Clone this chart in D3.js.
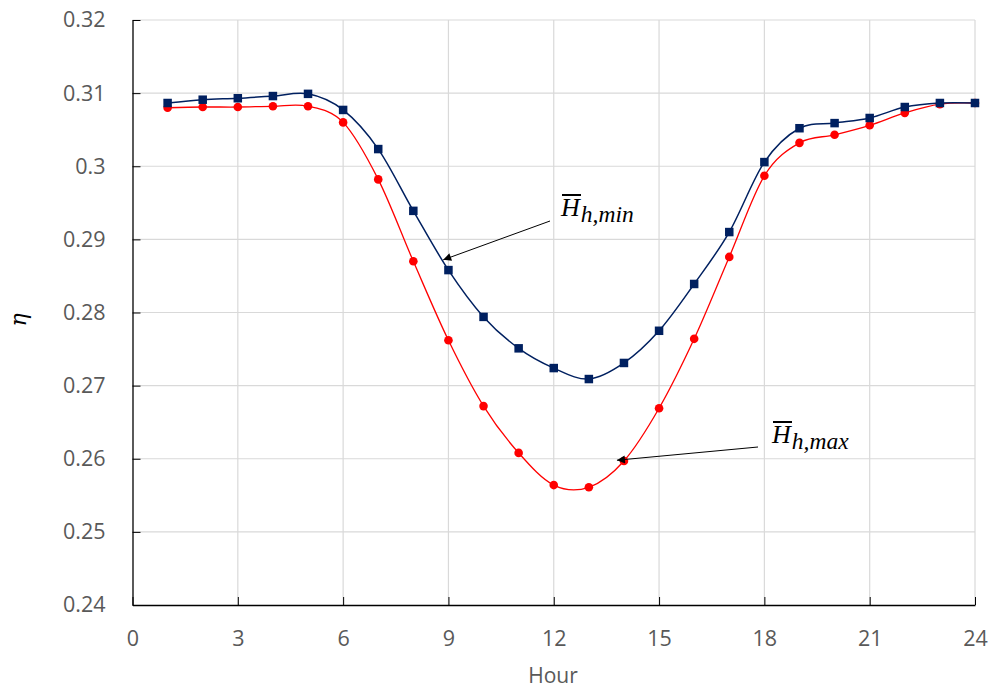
<!DOCTYPE html>
<html>
<head>
<meta charset="utf-8">
<script src="https://cdn.jsdelivr.net/npm/d3@7"></script>
<style>
  html, body { margin: 0; padding: 0; background: #fff; }
  svg { display: block; }
</style>
</head>
<body>
<svg id="chart" width="989" height="689"></svg>
<script>
// ---- data ----
const hours = [1,2,3,4,5,6,7,8,9,10,11,12,13,14,15,16,17,18,19,20,21,22,23,24];
const etaHmin = [0.30865,0.3091,0.3093,0.3096,0.3099,0.3077,0.30235,0.2939,0.2858,0.2794,0.2751,0.2724,
                 0.2709,0.2731,0.2775,0.2839,0.2910,0.30057,0.3052,0.3059,0.3066,0.3081,0.30865,0.30865];
const etaHmax = [0.3080,0.3081,0.3081,0.3082,0.3082,0.3060,0.2982,0.2870,0.2762,0.2672,0.2608,0.2564,
                 0.2561,0.2597,0.2669,0.2764,0.2876,0.2987,0.3032,0.3043,0.3056,0.3073,0.3085,0.30865];
const xTicks = [0,3,6,9,12,15,18,21,24];
const yTicks = [0.24,0.25,0.26,0.27,0.28,0.29,0.30,0.31,0.32];
const yTickLabels = ["0.24","0.25","0.26","0.27","0.28","0.29","0.3","0.31","0.32"];
const xLabel = "Hour";
const yLabel = "η";
// annotations: [hour, value] the arrow points at, plus label subscript
const annotations = [
  {sub: "h,min", pointAt: [8.85, 0.2872]},
  {sub: "h,max", pointAt: [13.8, 0.2598]}
];

// ---- layout ----
const svg = d3.select("#chart");
const L = 132.5, R = 975, T = 20, B = 605;
const x = d3.scaleLinear().domain([0,24]).range([L,R]);
const y = d3.scaleLinear().domain([0.24,0.32]).range([B,T]);

const gridColor = "#d9d9d9";
const tickFont = "'Open Sans', 'Noto Sans', sans-serif";

// gridlines
svg.append("g").selectAll("line").data(yTicks.slice(1)).join("line")
  .attr("x1", L).attr("x2", R).attr("y1", d => y(d)).attr("y2", d => y(d))
  .attr("stroke", gridColor).attr("stroke-width", 1.2);
svg.append("g").selectAll("line").data(xTicks.slice(1)).join("line")
  .attr("x1", d => x(d)).attr("x2", d => x(d)).attr("y1", T).attr("y2", B)
  .attr("stroke", gridColor).attr("stroke-width", 1.2);

// axes
const yAxis = d3.axisLeft(y).tickValues(yTicks)
  .tickFormat((d,i) => yTickLabels[i]).tickSizeInner(-8).tickSizeOuter(0).tickPadding(27);
const gy = svg.append("g").attr("transform", `translate(${L},0)`).call(yAxis);
gy.select(".domain").attr("stroke", "#000").attr("stroke-width", 1.3);
gy.selectAll(".tick line").attr("stroke", "#000").attr("stroke-width", 1);
gy.selectAll(".tick text").attr("font-family", tickFont).attr("font-size", 21.5)
  .attr("fill", "#595959");

const xAxis = d3.axisBottom(x).tickValues(xTicks).tickFormat(d3.format("d"))
  .tickSizeInner(-8).tickSizeOuter(0).tickPadding(26);
const gx = svg.append("g").attr("transform", `translate(0,${B})`).call(xAxis);
gx.select(".domain").attr("stroke", "#000").attr("stroke-width", 1.3);
gx.selectAll(".tick line").attr("stroke", "#000").attr("stroke-width", 1);
gx.selectAll(".tick text").attr("font-family", tickFont).attr("font-size", 21.5)
  .attr("fill", "#595959");

// axis titles
svg.append("text").attr("x", 553).attr("y", 683)
  .attr("text-anchor", "middle").attr("font-family", tickFont).attr("font-size", 21)
  .attr("fill", "#595959").text(xLabel);
svg.append("text").attr("transform", "translate(26,320) rotate(-90)")
  .attr("text-anchor", "middle").attr("font-family", "'DejaVu Serif', serif")
  .attr("font-style", "italic").attr("font-size", 22).attr("fill", "#000").text(yLabel);

// series
const line = d3.line().x(d => x(d[0])).y(d => y(d[1])).curve(d3.curveCatmullRom.alpha(0));
const redData = hours.map((h,i) => [h, etaHmax[i]]);
const blueData = hours.map((h,i) => [h, etaHmin[i]]);

svg.append("path").datum(redData).attr("d", line)
  .attr("fill", "none").attr("stroke", "#ff0000").attr("stroke-width", 1.3);
svg.append("g").selectAll("circle").data(redData).join("circle")
  .attr("cx", d => x(d[0])).attr("cy", d => y(d[1])).attr("r", 4.3).attr("fill", "#ff0000");

svg.append("path").datum(blueData).attr("d", line)
  .attr("fill", "none").attr("stroke", "#002060").attr("stroke-width", 1.5);
const sq = 8.5;
svg.append("g").selectAll("rect").data(blueData).join("rect")
  .attr("x", d => x(d[0]) - sq/2).attr("y", d => y(d[1]) - sq/2)
  .attr("width", sq).attr("height", sq).attr("fill", "#002060");

// arrow marker
svg.append("defs").append("marker").attr("id", "arr")
  .attr("viewBox", "0 0 10 10").attr("refX", 10).attr("refY", 5)
  .attr("markerWidth", 11).attr("markerHeight", 8).attr("markerUnits", "userSpaceOnUse")
  .attr("orient", "auto")
  .append("path").attr("d", "M0,0 L10,5 L0,10 Z").attr("fill", "#000");

// annotation positions (pixels)
const annLayout = [
  {tx: 561, ty: 216, lx: 550, ly: 221},
  {tx: 772, ty: 443, lx: 758, ly: 447}
];
annotations.forEach((a, i) => {
  const p = annLayout[i];
  svg.append("line").attr("x1", p.lx).attr("y1", p.ly)
    .attr("x2", x(a.pointAt[0])).attr("y2", y(a.pointAt[1]))
    .attr("stroke", "#000").attr("stroke-width", 1).attr("marker-end", "url(#arr)");
  const t = svg.append("text").attr("x", p.tx).attr("y", p.ty)
    .attr("font-family", "'Liberation Serif', 'DejaVu Serif', serif")
    .attr("font-style", "italic").attr("fill", "#000");
  t.append("tspan").attr("font-size", 26).text("H");
  t.append("tspan").attr("font-size", 23.5).attr("dy", 6).attr("dx", 1).text(a.sub);
  svg.append("line").attr("x1", p.tx + 1).attr("x2", p.tx + 20)
    .attr("y1", p.ty - 21).attr("y2", p.ty - 21)
    .attr("stroke", "#000").attr("stroke-width", 2);
});
</script>
</body>
</html>
